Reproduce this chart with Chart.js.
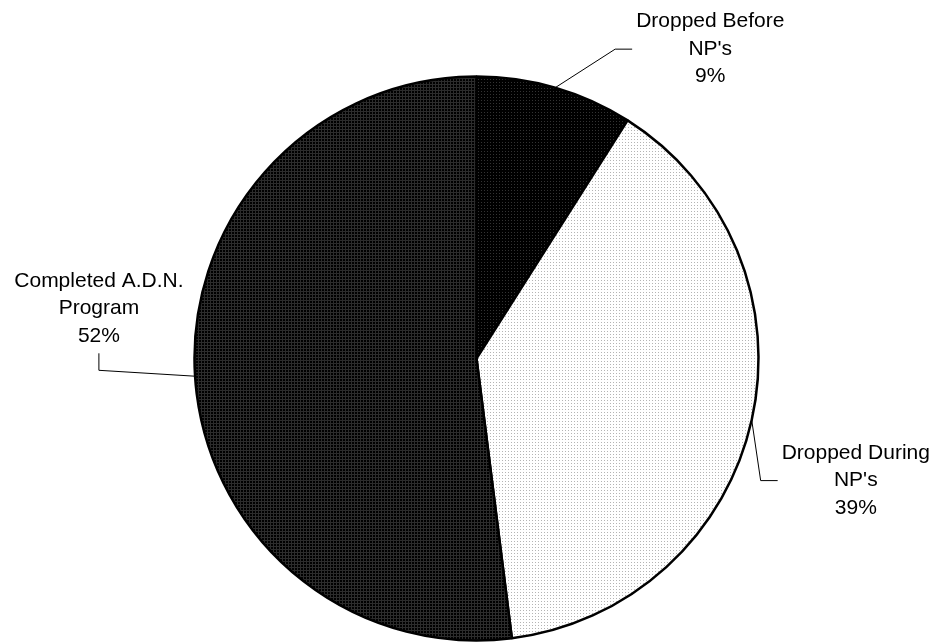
<!DOCTYPE html>
<html>
<head>
<meta charset="utf-8">
<script src="https://cdn.jsdelivr.net/npm/chart.js@4"></script>
<style>
  html, body { margin: 0; padding: 0; background: #fff; }
  canvas { display: block; }
</style>
</head>
<body>
<canvas id="outcomeChart" width="938" height="642"></canvas>
<script>
// slice names (each line of the label) and their percentages
const categories = [
    ['Dropped Before', "NP's"],
    ['Dropped During', "NP's"],
    ['Completed A.D.N.', 'Program']
];
const percentValues = [9, 39, 52];

// small tiled fills, one per slice
function makePattern(bg, fg, kind) {
    const tile = document.createElement('canvas');
    tile.width = 3;
    tile.height = 3;
    const t = tile.getContext('2d');
    t.fillStyle = bg;
    t.fillRect(0, 0, 3, 3);
    t.fillStyle = fg;
    if (kind === 'grid') {
        t.fillRect(0, 0, 3, 1);
        t.fillRect(0, 0, 1, 3);
    } else {
        t.fillRect(1, 1, 1, 1);
    }
    return t.createPattern(tile, 'repeat');
}

const fills = [
    makePattern('#000000', '#333333', 'dot'),
    makePattern('#ffffff', '#b4b4b4', 'dot'),
    makePattern('#000000', '#2c2c2c', 'grid')
];

// where each label sits, relative to the pie centre in radius units,
// and which way its leader line comes in
const labelSpots = [
    { at: [0.829, -1.097], side: 'left' },
    { at: [1.345, 0.433], side: 'left' },
    { at: [-1.339, -0.178], side: 'below' }
];

const leaderLabels = {
    id: 'leaderLabels',
    afterDatasetsDraw(chart) {
        const ctx = chart.ctx;
        const meta = chart.getDatasetMeta(0);
        const lineGap = 27.5;
        ctx.save();
        ctx.font = '21px "Liberation Sans", Arial, sans-serif';
        ctx.textAlign = 'center';
        ctx.textBaseline = 'middle';
        ctx.fillStyle = '#000';
        ctx.strokeStyle = '#000';
        ctx.lineWidth = 1;
        meta.data.forEach((arc, i) => {
            const r = arc.outerRadius;
            const mid = (arc.startAngle + arc.endAngle) / 2;
            const sx = arc.x + Math.cos(mid) * r;
            const sy = arc.y + Math.sin(mid) * r;
            const spot = labelSpots[i];
            const tx = arc.x + spot.at[0] * r;
            const ty = arc.y + spot.at[1] * r;
            const lines = categories[i].concat([percentValues[i] + '%']);
            const w = Math.max(...lines.map(l => ctx.measureText(l).width));

            let ex, ey, kx, ky;
            if (spot.side === 'left') {
                ex = tx - w / 2 - 4;
                ey = ty;
                kx = ex - 17;
                ky = ey;
            } else {
                ex = tx;
                ey = ty + 45;
                kx = ex;
                ky = ey + 17;
            }
            ctx.beginPath();
            ctx.moveTo(sx, sy);
            ctx.lineTo(kx, ky);
            ctx.lineTo(ex, ey);
            ctx.stroke();

            lines.forEach((l, j) => {
                ctx.fillText(l, tx, ty + (j - 1) * lineGap);
            });
        });
        ctx.restore();
    }
};

const ctx = document.getElementById('outcomeChart').getContext('2d');

const outcomeChart = new Chart(ctx, {
    type: 'pie',
    data: {
        labels: categories,
        datasets: [{
            data: percentValues,
            backgroundColor: fills,
            borderColor: '#000',
            borderWidth: 2.5
        }]
    },
    options: {
        responsive: false,
        animation: false,
        events: [],
        radius: 282,
        layout: { padding: { top: 75, bottom: 0, left: 15, right: 0 } },
        plugins: {
            legend: { display: false },
            tooltip: { enabled: false }
        }
    },
    plugins: [leaderLabels]
});
</script>
</body>
</html>
